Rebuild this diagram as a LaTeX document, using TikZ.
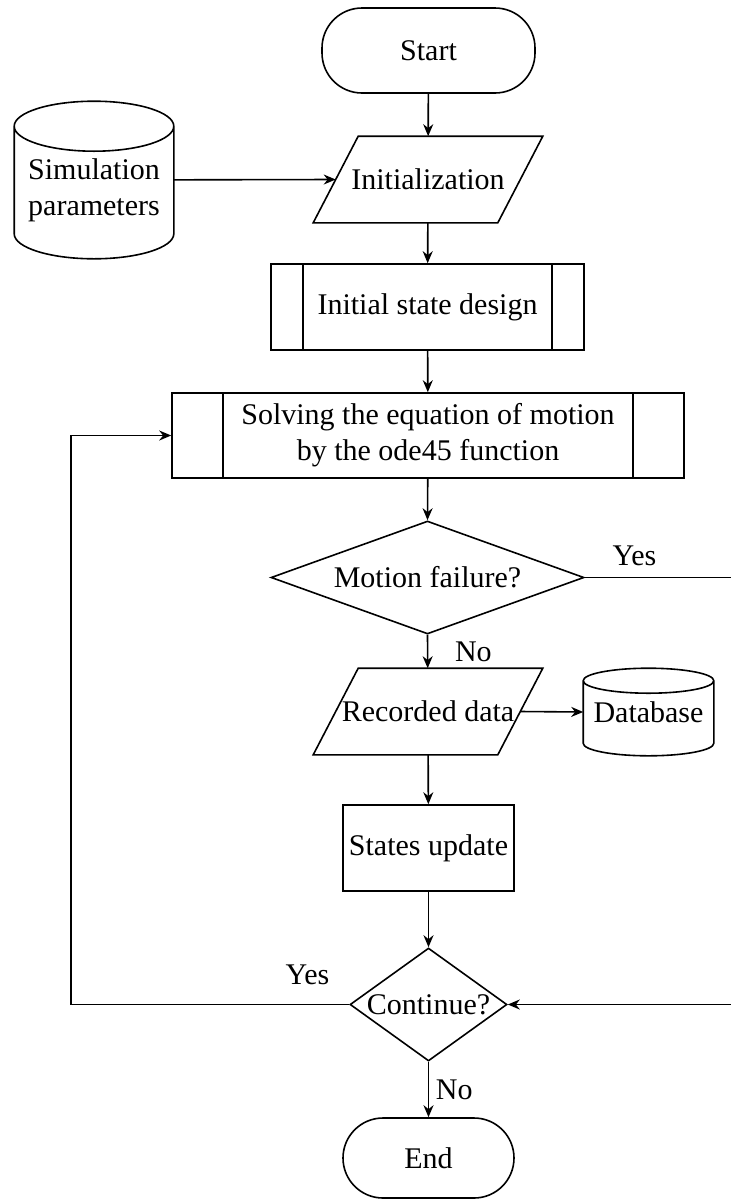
\documentclass[tikz,border=0pt]{standalone}
\usepackage{fontspec}
\setmainfont{Liberation Serif}
\usetikzlibrary{arrows.meta, shapes.geometric, calc}

\newcommand{\drawdb}[2]{%
  \draw[line width=0.8pt] let \p1=(#1.north west), \p2=(#1.south east), \n1={(\x2-\x1)/2} in
    (\x1,\y1-#2) -- (\x1,\y2+#2)
    arc[start angle=180, end angle=360, x radius=\n1, y radius=#2]
    -- (\x2,\y1-#2)
    arc[start angle=0, end angle=360, x radius=\n1, y radius=#2];
}
\newcommand{\drawio}[1]{%
  \draw[line width=0.8pt] let \p1=(#1.north west), \p2=(#1.south east) in
    (\x1-11.25pt,\y2) -- (\x1+11.25pt,\y1) -- (\x2+11.25pt,\y1) -- (\x2-11.25pt,\y2) -- cycle;
}

\begin{document}
\begin{tikzpicture}[x=0.5pt, y=-0.5pt, line width=0.8pt,
    every node/.style={font=\fontsize{15}{18}\selectfont},
    arr/.style={-{Stealth[length=6pt, width=5pt]}},
    term/.style={draw, rectangle, rounded corners=20pt, inner sep=0pt},
    io/.style={rectangle, minimum width=91.5pt, minimum height=42.5pt, inner sep=0pt},
    predef/.style={draw, rectangle, inner sep=0pt, path picture={
        \draw ([xshift=#1]path picture bounding box.north west) -- ([xshift=#1]path picture bounding box.south west)
              ([xshift=-#1]path picture bounding box.north east) -- ([xshift=-#1]path picture bounding box.south east);}},
    proc/.style={draw, rectangle, inner sep=0pt},
    decision/.style={draw, diamond, inner sep=0pt},
    store/.style={rectangle, inner sep=0pt, align=center}]

    \useasboundingbox (0,0) rectangle (731,1200);

    \node[term, minimum width=106.5pt, minimum height=42.5pt] (start) at (428.5,50.5) {Start};
    \node[io] (init) at (428,179.5) {Initialization};
    \drawio{init}
    \node[store, minimum width=79pt, minimum height=78pt,
        label={[align=center, yshift=-5pt]center:Simulation\\parameters}] (sim) at (94,180) {};
    \drawdb{sim}{12.5pt}
    \node[predef=16pt, minimum width=156.5pt, minimum height=43pt] (isd) at (427.5,307) {Initial state design};
    \node[predef=25.5pt, minimum width=256pt, minimum height=42.5pt, align=center] (solve) at (428,435.5)
        {Solving the equation of motion\\by the ode45 function};
    \node[decision, minimum width=156.5pt, minimum height=56.5pt, label=center:{Motion failure?}] (mf) at (427.5,577.5) {};
    \node[io] (rec) at (428,711.5) {Recorded data};
    \drawio{rec}
    \node[store, minimum width=64.5pt, minimum height=43pt] (db) at (648.5,712) {\raisebox{-3pt}{Database}};
    \drawdb{db}{6.25pt}
    \node[proc, minimum width=85.5pt, minimum height=43pt] (su) at (428.5,848) {States update};
    \node[decision, minimum width=78.5pt, minimum height=56.5pt, label=center:{Continue?}] (cont) at (428.5,1004.5) {};
    \node[term, minimum width=85.5pt, minimum height=40pt] (end) at (428.5,1158) {End};

    \coordinate (loopx) at (71,1004.5);
    \coordinate (rgtA) at (731,577.5);
    \coordinate (rgtB) at (731,1004.5);

    \draw[arr] (start) -- (init);
    \draw[arr] (sim) -- (init.west);
    \draw[arr] (init) -- (isd);
    \draw[arr] (isd) -- (solve);
    \draw[arr] (solve) -- (mf.north);
    \draw[arr] (mf.south) -- node[right, xshift=10pt] {No} (rec);
    \draw[arr] (rec.east) -- (db.west);
    \draw[arr] (rec) -- (su);
    \draw[arr] (su) -- (cont.north);
    \draw[arr] (cont.south) -- node[right] {No} (end);
    \draw (mf.east) -- node[above, pos=0.34, yshift=2pt] {Yes} (rgtA);
    \draw[arr] (rgtB) -- (cont.east);
    \draw[arr] (cont.west) -- node[above, pos=0.15, yshift=6pt] {Yes} (loopx) |- (solve.west);
\end{tikzpicture}
\end{document}
